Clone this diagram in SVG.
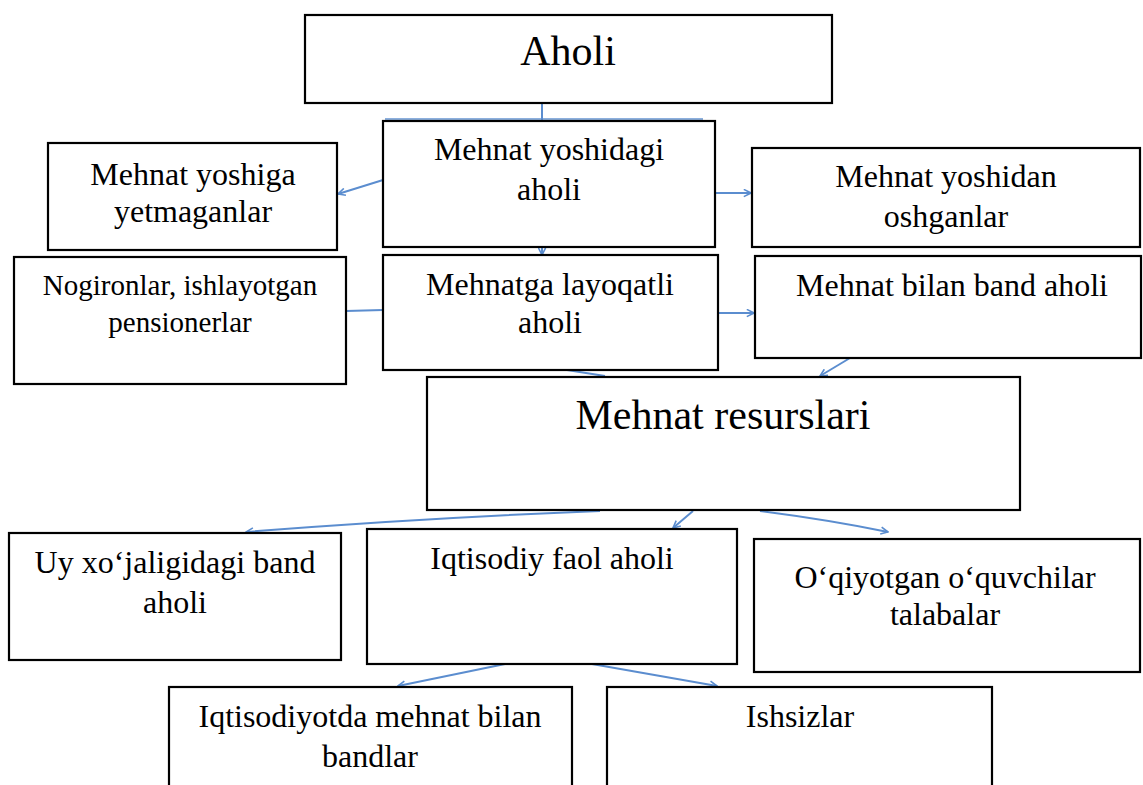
<svg xmlns="http://www.w3.org/2000/svg" width="1143" height="785" viewBox="0 0 1143 785">
<defs>
<style>
.box{fill:#fff;stroke:#000;stroke-width:2.2}
.t{font-family:"Liberation Serif","Times New Roman",serif;font-size:32px;fill:#000;text-anchor:middle}
.c{fill:none;stroke:#5b8dcf;stroke-width:2}
</style>
<marker id="ah" viewBox="0 0 10 10" refX="9" refY="5" markerWidth="9" markerHeight="9" markerUnits="userSpaceOnUse" orient="auto">
<path d="M1,1 L9,5 L1,9" fill="none" stroke="#5b8dcf" stroke-width="1.8"/>
</marker>
</defs>
<rect width="1143" height="785" fill="#fff"/>
<g id="connectors">
<line class="c" x1="542" y1="103" x2="542" y2="121"/>
<line class="c" x1="385" y1="119" x2="703" y2="119" stroke-opacity="0.7"/>
<line class="c" x1="383" y1="180" x2="338" y2="194" marker-end="url(#ah)"/>
<line class="c" x1="715" y1="193" x2="751" y2="193" marker-end="url(#ah)"/>
<line class="c" x1="542" y1="248" x2="542" y2="255" marker-end="url(#ah)"/>
<line class="c" x1="346" y1="311" x2="383" y2="310"/>
<line class="c" x1="718" y1="313" x2="754" y2="313" marker-end="url(#ah)"/>
<line class="c" x1="567" y1="370" x2="605" y2="376"/>
<line class="c" x1="850" y1="358" x2="820" y2="376" marker-end="url(#ah)"/>
<path class="c" d="M600,511 Q420,518 246,532" marker-end="url(#ah)"/>
<line class="c" x1="693" y1="511" x2="673" y2="528" marker-end="url(#ah)"/>
<path class="c" d="M760,511 Q830,520 888,532" marker-end="url(#ah)"/>
<line class="c" x1="505" y1="664" x2="398" y2="686" marker-end="url(#ah)"/>
<line class="c" x1="592" y1="664" x2="717" y2="686" marker-end="url(#ah)"/>
</g>
<g id="aholi">
<rect class="box" x="305" y="15" width="527" height="88"/>
<text class="t" x="568" y="65" style="font-size:42px">Aholi</text>
</g>
<g id="mehnat-yoshidagi">
<rect class="box" x="383" y="121" width="332" height="126"/>
<text class="t" x="549" y="160">Mehnat yoshidagi</text>
<text class="t" x="549" y="200">aholi</text>
</g>
<g id="yetmaganlar">
<rect class="box" x="48" y="143" width="289" height="107"/>
<text class="t" x="193" y="185">Mehnat yoshiga</text>
<text class="t" x="193" y="222">yetmaganlar</text>
</g>
<g id="oshganlar">
<rect class="box" x="752" y="148" width="388" height="99"/>
<text class="t" x="946" y="187">Mehnat yoshidan</text>
<text class="t" x="946" y="227">oshganlar</text>
</g>
<g id="nogironlar">
<rect class="box" x="14" y="257" width="332" height="127"/>
<text class="t" x="180" y="295" style="font-size:29px">Nogironlar, ishlayotgan</text>
<text class="t" x="180" y="332" style="font-size:29px">pensionerlar</text>
</g>
<g id="mehnatga-layoqatli">
<rect class="box" x="383" y="255" width="335" height="115"/>
<text class="t" x="550" y="295">Mehnatga layoqatli</text>
<text class="t" x="550" y="333">aholi</text>
</g>
<g id="band-aholi">
<rect class="box" x="755" y="256" width="386" height="102"/>
<text class="t" x="952" y="296">Mehnat bilan band aholi</text>
</g>
<g id="mehnat-resurslari">
<rect class="box" x="427" y="377" width="593" height="133"/>
<text class="t" x="723" y="429" style="font-size:42px">Mehnat resurslari</text>
</g>
<g id="uy-xojaligi">
<rect class="box" x="9" y="533" width="332" height="127"/>
<text class="t" x="175" y="573">Uy xo‘jaligidagi band</text>
<text class="t" x="175" y="613">aholi</text>
</g>
<g id="iqtisodiy-faol">
<rect class="box" x="367" y="529" width="370" height="135"/>
<text class="t" x="552" y="569">Iqtisodiy faol aholi</text>
</g>
<g id="oqiyotgan">
<rect class="box" x="754" y="539" width="386" height="133"/>
<text class="t" x="945" y="588">O‘qiyotgan o‘quvchilar</text>
<text class="t" x="945" y="625">talabalar</text>
</g>
<g id="iqtisodiyotda-band">
<rect class="box" x="169" y="687" width="403" height="120"/>
<text class="t" x="370" y="727">Iqtisodiyotda mehnat bilan</text>
<text class="t" x="370" y="767">bandlar</text>
</g>
<g id="ishsizlar">
<rect class="box" x="607" y="687" width="385" height="120"/>
<text class="t" x="800" y="727">Ishsizlar</text>
</g>
</svg>
